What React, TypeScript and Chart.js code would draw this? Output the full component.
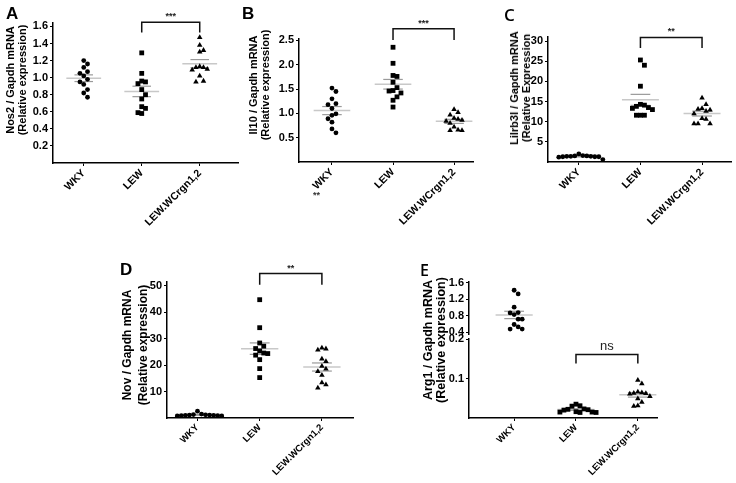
import React, { useEffect, useRef } from "react";
import { Chart, registerables } from "chart.js";

Chart.register(...registerables);
Chart.defaults.font.family = "'Liberation Sans', Arial, sans-serif";
Chart.defaults.color = "#000";

// ---------- data ----------
const groupNames = ["WKY", "LEW", "LEW.WCrgn1,2"];

const nos2WKY = [1.2, 1.16, 1.12, 1.07, 1.05, 1.02, 0.98, 0.95, 0.92, 0.86, 0.82, 0.77];
const nos2LEW = [1.29, 1.05, 0.96, 0.95, 0.93, 0.86, 0.8, 0.75, 0.66, 0.64, 0.59, 0.58];
const nos2Congenic = [1.47, 1.38, 1.32, 1.3, 1.13, 1.12, 1.12, 1.1, 1.09, 1.02, 0.96, 0.95];
const nos2Ticks = [0.2, 0.4, 0.6, 0.8, 1.0, 1.2, 1.4, 1.6];

const il10WKY = [1.52, 1.45, 1.3, 1.2, 1.18, 1.1, 0.99, 0.96, 0.89, 0.82, 0.68, 0.6];
const il10LEW = [2.36, 2.03, 1.78, 1.76, 1.64, 1.53, 1.47, 1.46, 1.42, 1.34, 1.27, 1.13];
const il10Congenic = [1.08, 1.02, 0.97, 0.9, 0.88, 0.86, 0.84, 0.8, 0.72, 0.66, 0.65, 0.65];
const il10Ticks = [0.5, 1.0, 1.5, 2.0, 2.5];

const lilrWKY = [2.0, 1.6, 1.5, 1.5, 1.4, 1.4, 1.4, 1.3, 1.3, 1.3, 1.2, 0.6];
const lilrLEW = [25.3, 24.0, 18.8, 14.3, 14.1, 13.8, 13.5, 13.3, 13.0, 11.6, 11.6, 11.6];
const lilrCongenic = [15.9, 14.3, 13.3, 13.1, 12.9, 12.6, 12.0, 10.8, 10.6, 9.5, 9.5, 9.5];
const lilrTicks = [5, 10, 15, 20, 25, 30];

const novWKY = [2.6, 1.5, 1.3, 1.2, 1.1, 1.1, 1.0, 1.0, 0.9, 0.9, 0.8, 0.8];
const novLEW = [44.8, 34.2, 28.4, 27.2, 26.3, 25.4, 24.6, 24.4, 23.8, 22.1, 18.7, 15.3];
const novCongenic = [26.5, 26.2, 25.8, 22.4, 21.4, 19.6, 18.6, 17.6, 16.2, 13.4, 12.6, 11.4];
const novTicks = [10, 20, 30, 40, 50];

const arg1WKY = [1.42, 1.33, 1.01, 0.88, 0.87, 0.83, 0.72, 0.72, 0.59, 0.53, 0.48, 0.48];
const arg1LEW = [0.035, 0.031, 0.03, 0.023, 0.022, 0.021, 0.02, 0.016, 0.015, 0.015, 0.014, 0.014];
const arg1Congenic = [0.096, 0.087, 0.066, 0.064, 0.063, 0.062, 0.061, 0.055, 0.049, 0.04, 0.031, 0.03];
const arg1UpperTicks = [0.4, 0.8, 1.2, 1.6];
const arg1LowerTicks = [0.1, 0.2];

// ---------- styling ----------
const markerStyles = ["circle", "rect", "triangle"];
const markerRadius = [2.4, 3.4, 3.2];
const FONT = "'Liberation Sans', Arial, sans-serif";

type Bracket = { from: number; to: number; top: number; leg: number; label: string; font: string } | false;

type PanelSpec = {
  series: number[][];
  groups: number[];
  yMin: number;
  yMax: number;
  ticks: number[];
  decimals: number;
  xMin: number;
  xMax: number;
  area: { left: number; right: number; top: number; bottom: number };
  showX: boolean;
  xFont: number;
  bracket: Bracket;
};

function swarm(values: number[], thr: number, step: number): number[] {
  const order = values.map((_, i) => i).sort((a, b) => values[b] - values[a]);
  const placed: { x: number; y: number }[] = [];
  const out = new Array(values.length).fill(0);
  for (const i of order) {
    const y = values[i];
    for (let k = 0; k < 60; k++) {
      const off = k === 0 ? 0 : (k % 2 === 1 ? 1 : -1) * Math.ceil(k / 2) * step;
      const hit = placed.some((p) => Math.abs(p.y - y) < thr && Math.abs(p.x - off) < step * 0.95);
      if (!hit) {
        out[i] = off;
        placed.push({ x: off, y });
        break;
      }
    }
  }
  return out;
}

const statsPlugin = {
  id: "stats",
  beforeDatasetsDraw(chart: any) {
    const { ctx, scales } = chart;
    const x = scales.x;
    const y = scales.y;
    ctx.save();
    chart.data.datasets.forEach((ds: any) => {
      const vals: number[] = ds.values;
      const n = vals.length;
      const mean = vals.reduce((a, b) => a + b, 0) / n;
      const sd = Math.sqrt(vals.reduce((a, b) => a + (b - mean) * (b - mean), 0) / (n - 1));
      const sem = sd / Math.sqrt(n);
      const seg = (val: number, half: number, color: string, w: number) => {
        const py = y.getPixelForValue(val);
        ctx.strokeStyle = color;
        ctx.lineWidth = w;
        ctx.beginPath();
        ctx.moveTo(x.getPixelForValue(ds.group - half), py);
        ctx.lineTo(x.getPixelForValue(ds.group + half), py);
        ctx.stroke();
      };
      seg(mean, 0.3, "#c8c8c8", 1.5);
      seg(mean + sem, 0.16, "#9a9a9a", 1.2);
      seg(mean - sem, 0.16, "#9a9a9a", 1.2);
    });
    ctx.restore();
  },
};

const bracketPlugin = {
  id: "bracket",
  afterDatasetsDraw(chart: any, _args: any, opts: any) {
    if (!opts || opts.from === undefined) return;
    const { ctx, scales } = chart;
    const x1 = scales.x.getPixelForValue(opts.from);
    const x2 = scales.x.getPixelForValue(opts.to);
    const yt = scales.y.getPixelForValue(opts.top);
    const yl = scales.y.getPixelForValue(opts.leg);
    ctx.save();
    ctx.strokeStyle = "#111";
    ctx.lineWidth = 1.5;
    ctx.beginPath();
    ctx.moveTo(x1, yl);
    ctx.lineTo(x1, yt);
    ctx.lineTo(x2, yt);
    ctx.lineTo(x2, yl);
    ctx.stroke();
    ctx.fillStyle = "#222";
    ctx.font = opts.font;
    ctx.textAlign = "center";
    ctx.textBaseline = "bottom";
    ctx.fillText(opts.label, (x1 + x2) / 2, yt - 1);
    ctx.restore();
  },
};

const Y_W = 36;
const PAD_TOP = 24;
const PAD_RIGHT = 6;
const X_H = 80;

function geometry(spec: PanelSpec) {
  const a = spec.area;
  const padBottom = spec.showX ? 0 : 8;
  const left = Math.round(a.left) - Y_W;
  const top = Math.round(a.top) - PAD_TOP;
  const width = Y_W + Math.round(a.right - a.left) + PAD_RIGHT;
  const height = PAD_TOP + Math.round(a.bottom - a.top) + (spec.showX ? X_H : 0) + padBottom;
  return { left, top, width, height, padBottom };
}

function Panel({ spec }: { spec: PanelSpec }) {
  const ref = useRef<HTMLCanvasElement>(null);
  const g = geometry(spec);
  useEffect(() => {
    const thr = (6.5 * (spec.yMax - spec.yMin)) / (spec.area.bottom - spec.area.top);
    const datasets = spec.series.map((vals, i) => {
      const grp = spec.groups[i];
      const offs = swarm(vals, thr, 0.065);
      return {
        label: groupNames[grp],
        data: vals.map((v, j) => ({ x: grp + offs[j], y: v })),
        pointStyle: markerStyles[grp],
        pointRadius: markerRadius[grp],
        backgroundColor: "#000",
        borderColor: "#000",
        borderWidth: 0,
        showLine: false,
        values: vals,
        group: grp,
      } as any;
    });
    const chart = new Chart(ref.current as HTMLCanvasElement, {
      type: "scatter",
      data: { datasets },
      plugins: [statsPlugin, bracketPlugin],
      options: {
        responsive: false,
        animation: false,
        events: [],
        layout: { padding: { top: PAD_TOP, right: PAD_RIGHT, left: 0, bottom: g.padBottom } },
        plugins: {
          legend: { display: false },
          tooltip: { enabled: false },
          bracket: spec.bracket,
        } as any,
        scales: {
          x: {
            type: "linear",
            display: spec.showX,
            min: spec.xMin,
            max: spec.xMax,
            afterBuildTicks: (s: any) => {
              s.ticks = [0, 1, 2].map((v) => ({ value: v }));
            },
            afterFit: (s: any) => {
              s.height = spec.showX ? X_H : 0;
            },
            ticks: {
              autoSkip: false,
              minRotation: 45,
              maxRotation: 45,
              padding: 1,
              color: "#000",
              font: { size: spec.xFont, weight: "bold", family: FONT },
              callback: (v: any) => groupNames[Math.round(Number(v))],
            },
            grid: { display: true, drawOnChartArea: false, drawTicks: true, tickLength: 3, color: "#000" },
            border: { display: true, color: "#000", width: 1.5 },
          },
          y: {
            type: "linear",
            min: spec.yMin,
            max: spec.yMax,
            afterBuildTicks: (s: any) => {
              s.ticks = spec.ticks.map((v) => ({ value: v }));
            },
            afterFit: (s: any) => {
              s.width = Y_W;
            },
            ticks: {
              padding: 2,
              color: "#000",
              font: { size: 11, weight: "bold", family: FONT },
              callback: (v: any) => Number(v).toFixed(spec.decimals),
            },
            grid: { display: true, drawOnChartArea: false, drawTicks: true, tickLength: 3, color: "#000" },
            border: { display: true, color: "#000", width: 1.5 },
          },
        },
      },
    } as any);
    return () => chart.destroy();
  }, []);
  return (
    <canvas
      ref={ref}
      width={g.width}
      height={g.height}
      style={{ position: "absolute", left: g.left, top: g.top, width: g.width, height: g.height }}
    />
  );
}

const panels: PanelSpec[] = [
  {
    series: [nos2WKY, nos2LEW, nos2Congenic],
    groups: [0, 1, 2],
    yMin: 0,
    yMax: 1.64,
    ticks: nos2Ticks,
    decimals: 1,
    xMin: -0.53,
    xMax: 2.66,
    area: { left: 53, right: 238, top: 23, bottom: 163 },
    showX: true,
    xFont: 10.5,
    bracket: { from: 1, to: 2, top: 1.65, leg: 1.53, label: "***", font: `bold 9px ${FONT}` },
  },
  {
    series: [il10WKY, il10LEW, il10Congenic],
    groups: [0, 1, 2],
    yMin: 0,
    yMax: 2.53,
    ticks: il10Ticks,
    decimals: 1,
    xMin: -0.54,
    xMax: 2.31,
    area: { left: 299, right: 473, top: 39, bottom: 162 },
    showX: true,
    xFont: 10.5,
    bracket: { from: 1, to: 2, top: 2.74, leg: 2.51, label: "***", font: `bold 9px ${FONT}` },
  },
  {
    series: [lilrWKY, lilrLEW, lilrCongenic],
    groups: [0, 1, 2],
    yMin: 0,
    yMax: 31,
    ticks: lilrTicks,
    decimals: 0,
    xMin: -0.5,
    xMax: 2.47,
    area: { left: 548, right: 731, top: 37, bottom: 162 },
    showX: true,
    xFont: 10.5,
    bracket: { from: 1, to: 2, top: 30.9, leg: 28.3, label: "**", font: `bold 9px ${FONT}` },
  },
  {
    series: [novWKY, novLEW, novCongenic],
    groups: [0, 1, 2],
    yMin: 0,
    yMax: 51.5,
    ticks: novTicks,
    decimals: 0,
    xMin: -0.49,
    xMax: 2.5,
    area: { left: 167, right: 353, top: 282, bottom: 418 },
    showX: true,
    xFont: 9.5,
    bracket: { from: 1, to: 2, top: 54.7, leg: 50.5, label: "**", font: `bold 9px ${FONT}` },
  },
  {
    series: [arg1WKY],
    groups: [0],
    yMin: 0.35,
    yMax: 1.62,
    ticks: arg1UpperTicks,
    decimals: 1,
    xMin: -0.73,
    xMax: 2.31,
    area: { left: 469, right: 657, top: 282, bottom: 335 },
    showX: false,
    xFont: 9.5,
    bracket: false,
  },
  {
    series: [arg1LEW, arg1Congenic],
    groups: [1, 2],
    yMin: 0,
    yMax: 0.2,
    ticks: arg1LowerTicks,
    decimals: 1,
    xMin: -0.73,
    xMax: 2.31,
    area: { left: 469, right: 657, top: 339, bottom: 418 },
    showX: true,
    xFont: 9.5,
    bracket: { from: 1, to: 2, top: 0.161, leg: 0.138, label: "ns", font: `13px ${FONT}` },
  },
];

const yTitles = [
  { lines: ["Nos2 / Gapdh mRNA", "(Relative expression)"], cx: 15.5, cy: 80, lh: 12, size: 11 },
  { lines: ["Il10 / Gapdh mRNA", "(Relative expression)"], cx: 259, cy: 85, lh: 11.5, size: 11 },
  { lines: ["Lilrb3l / Gapdh mRNA", "(Relative Expression"], cx: 519.5, cy: 88, lh: 12, size: 11 },
  { lines: ["Nov / Gapdh mRNA", "(Relative expression)"], cx: 134.5, cy: 345, lh: 16, size: 12 },
  { lines: ["Arg1 / Gapdh mRNA", "(Relative expression)"], cx: 434, cy: 340, lh: 12.5, size: 12.5 },
];

const letters = [
  { t: "A", left: 6, top: 5, font: `bold 17px ${FONT}` },
  { t: "B", left: 242, top: 5, font: `bold 17px ${FONT}` },
  { t: "C", left: 504, top: 6, font: `600 17px 'Open Sans', sans-serif` },
  { t: "D", left: 120, top: 261, font: `bold 17px ${FONT}` },
  { t: "E", left: 420, top: 262, font: `600 16px 'Open Sans', sans-serif` },
];

export default function App() {
  return (
    <div style={{ position: "absolute", left: 0, top: 0, width: 736, height: 483, background: "#fff", overflow: "hidden" }}>
      {panels.map((p, i) => (
        <Panel key={i} spec={p} />
      ))}
      {yTitles.map((t, i) => (
        <div
          key={"t" + i}
          style={{
            position: "absolute",
            left: t.cx,
            top: t.cy,
            transform: "translate(-50%, -50%) rotate(-90deg)",
            whiteSpace: "nowrap",
            textAlign: "center",
            font: `bold ${t.size}px ${FONT}`,
            lineHeight: t.lh + "px",
            color: "#000",
          }}
        >
          {t.lines.map((l, j) => (
            <div key={j}>{l}</div>
          ))}
        </div>
      ))}
      {letters.map((l, i) => (
        <div key={"l" + i} style={{ position: "absolute", left: l.left, top: l.top, font: l.font, lineHeight: "17px", color: "#000" }}>
          {l.t}
        </div>
      ))}
      <div style={{ position: "absolute", left: 313, top: 190, font: `bold 9px ${FONT}`, color: "#333", lineHeight: "10px" }}>**</div>
    </div>
  );
}
